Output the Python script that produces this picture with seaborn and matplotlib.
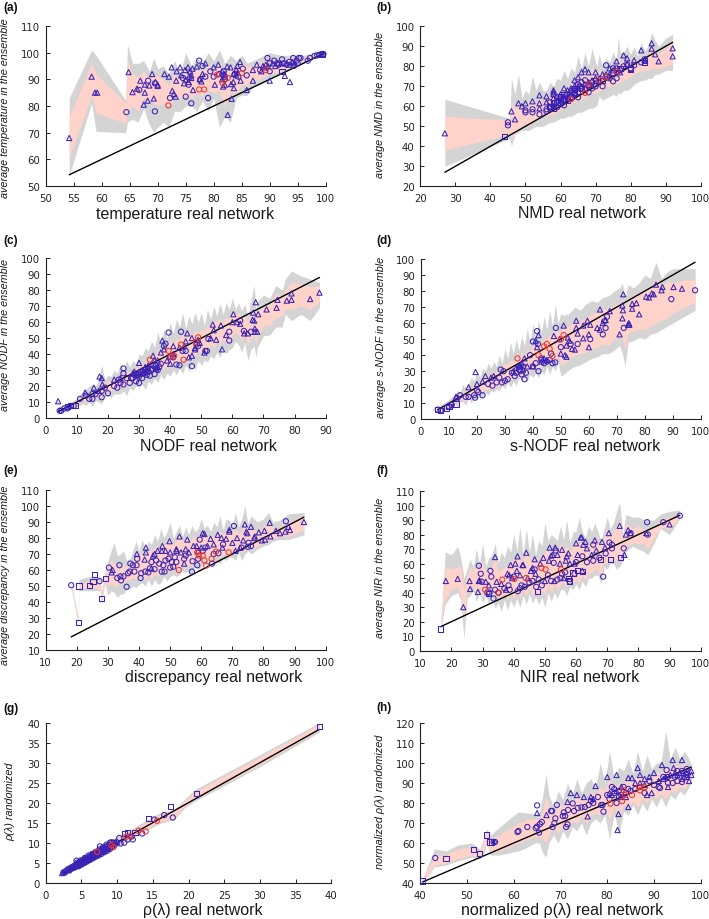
import matplotlib
matplotlib.use("Agg")
import matplotlib.pyplot as plt
import numpy as np
import pandas as pd
import seaborn as sns

BLUE = "#3a22b4"
RED = "#f0352e"
GREY = "#d4d4d4"
PINK = "#ffd2ca"

# band rows: x, outer low, inner low, inner high, outer high
BAND_A = [(54.2,54,60.7,76,83),(58.2,81,84,96,101),(59,70.5,77.5,92,99),(64.3,70,73.5,81,82),(64.6,74,78,97,103),(65.5,75,80,92,96),(66.5,74,78,91,96),(67.5,79,83,93,97),(68.5,73,82,90,93),(69.3,70,81,92,98),(70,72,80,91,94),(71,74,81,90,95),(72,72,80,88,92),(73,78,83,92,97),(74,78,83,90,92),(75,80,84,95,100),(76,80,83,92,95),(77,78,85,94,98),(78,82,84,93,96),(79,78,86,95,100),(80,83,85,94,97),(81,72,86,96,101),(82,76,80,93,96),(83,74,85,95,99),(84,83,85,94,97),(85,84,88,96,99),(86,84,88,95,96),(87,87,90,95,97),(88,88,90,96,98),(89,89,91,97,99),(90,90,92,97,100),(92,92,93,97,99),(94,94,95,98,99),(96,96,97,98,99),(98,98,98.5,99,100),(99.6,99.3,99.4,99.7,100)]
TRI_A = [(54.2,68),(58.2,91),(58.8,85),(59.2,85),(64.8,92.7),(65.5,85.2),(66.3,86.5),(66.9,89.5),(67.5,80.5),(67.7,88),(67.7,85),(68.2,82),(68.5,87.7),(69,92),(69.3,82.8),(69.6,89),(70,87.5),(70,88),(71.2,92),(72,91),(72.5,94.5),(72.6,85.7),(72.9,84.5),(73.2,83.5),(73.3,89.5),(73.4,93),(74,94.5),(74.2,91.5),(74.7,88.5),(74.9,93.5),(75.4,94.5),(75.8,93),(76.2,94),(76.3,86),(75.5,89),(76,90.5),(77,94.8),(77.5,90),(77.8,89.2),(78,92),(78.5,96),(80,94.5),(80.2,88),(80.8,95.5),(81.5,93),(81.7,87.3),(82,88),(82.4,94.8),(82.5,76.7),(83,94.5),(83.1,88.2),(83.2,82.7),(83.5,89),(83.6,86.7),(84,93.5),(84.2,95),(84.7,96.5),(84.8,89.5),(85.9,86),(87,89.5),(87,93.5),(87.7,95.5),(88.5,93),(89,94.5),(90,89.5),(90.5,96),(92.7,91.3),(93.6,89),(91,95),(91.5,96),(93,96),(75,90),(75.6,91),(76,91.5),(81.5,90),(81.8,91),(82,92),(83.5,92),(84,91.5),(84.3,92.5),(88.8,95),(89.3,95.5),(89.7,95),(92,96),(93.5,95.5),(94,96.5),(94.5,96)]
CIR_A = [(64.4,77.7),(66.7,86),(68.3,89.5),(69.5,78),(69.5,88.5),(72.2,83),(74.5,90.5),(75,83.5),(75.5,88),(76,81),(77.4,97),(77.6,90),(78,95),(78.5,91),(79,83),(79.4,93),(80,91),(81,92),(81.7,91.5),(81.8,93),(82,90),(83.8,92),(84.4,91),(85.2,94),(85.9,91.5),(88.3,93.5),(89.6,98),(90,93),(90,96),(90.8,97),(91.3,96),(91.6,95.5),(92.2,97.5),(92.5,96),(93,95.5),(93.5,96.5),(94.2,98),(94.3,95),(94.8,97),(95,96),(95.2,98),(95.5,98),(96.8,97),(97.2,98),(98,98.8),(98.5,99),(98.9,99.2),(99.3,99.5),(99.6,99.5)]
SQR_A = [(92.2,93),(99.5,99.4)]
HOT_A = [(71.9,80.2),(77.4,86.2),(78.3,86.2),(80.6,91.7),(81.6,88.7),(82.5,90.5),(85,92.3),(89.3,93.5)]

BAND_B = [(27,30,38,55,63.5),(45.5,44,46,53,54),(46,40,43,62,74),(47,46,47,58,66),(48,47,49,62,76),(49,48,50,60,64),(50,48,52,62,68),(51,48,50,60,66),(52,49,53,64,75),(53,50,53,61,68),(54,50,54,64,72),(55,50,55,62,68),(56,51,55,64,68),(57,52,56,65,72),(58,52,56,65,70),(59,53,57,67,74),(60,54,58,67,73),(61,54,60,70,78),(62,55,60,68,74),(63,55,61,72,79),(64,56,62,71,77),(65,57,63,76,85),(66,57,64,73,79),(67,58,64,78,87),(68,59,66,74,80),(69,59,66,80,89),(70,60,67,76,82),(70.5,61,67,75,80),(71,65,68,79,86),(72,63,68,76,80),(73,64,70,78,84),(74,65,70,77,82),(75,66,71,81,87),(76,65,71,79,83),(76.5,67,72,85,95),(77,66,72,82,87),(78,68,73,82,87),(79,68,74,84,90),(80,69,75,81,86),(81,71,76,84,90),(82,72,77,82,85),(83,73,78,86,92),(84,73,78,85,88),(85,74,78,85,90),(86,74,79,91,97),(87,76,79,88,93),(88,76,79,86,90),(90,78,80,89,94),(92,78,81,92,96)]
TRI_B = [(27,46.5),(46,57.5),(47,53.5),(48,61.5),(49,60),(50,61.5),(52,62.5),(54,65.5),(54,61.5),(54,59),(56,65),(56,62),(57,60),(58,68),(58,67),(58,64),(59,63),(60,66),(61,69),(62,68),(63,68),(64,73),(64,68),(65,74.5),(66,77),(67,78.5),(68,77),(68,72),(70,77),(70,74),(71,74),(73,76),(74,79),(75,78),(76,82.5),(77,77),(78,85.5),(79,84),(79,81),(81,83),(83,88),(84,83),(86,91.5),(86,88.8),(87,86),(88,82.5),(92,89),(92,85),(65,69),(66,70),(63,66),(62,65),(60,63),(69,73),(72,76),(74,76),(58,66),(59,65),(61,65),(63,69),(64,70),(65,70),(67,71)]
CIR_B = [(45,52),(45,50.5),(50,58),(50,57),(52,58.5),(52,57),(54,56),(56,57.5),(56,58.5),(57,59),(57,62),(58,60),(59,59.5),(59,62),(60,61),(60,64),(61,60.5),(61,63),(62,64),(62,66),(63,64),(64,66),(64,68),(65,64.5),(65,67),(66,69),(67,69),(68,67),(68,70),(69,69),(69,72),(70,71),(70,70),(71,72),(72,70),(73,80.5),(74,74),(75,72.5),(75,79),(76,74),(76,79),(77,78),(78,80),(79,81),(80,79),(81,80.5),(83,82),(84,83.5),(65,71),(67,73),(66,72)]
SQR_B = [(44,45),(57,60),(58,59),(59,62),(60,65),(60,62),(61,64),(62,63),(63,65),(64,67),(64,69),(66,69),(68,71),(70,73),(72,73),(75,77),(76,78),(77,79),(80,78.5),(80,79),(84,82),(84,83),(61,66),(58,62),(73,75)]
HOT_B = [(63,63.5),(67,66.7),(68,71),(71,73),(73,74.5),(76,77.5)]

BAND_C = [(4,3.5,4,6,7),(7,5,6,8,9),(10,7,8.5,11,12),(12,9,11,14,17),(13,8,11,15,18),(14,10,12,16,20),(15,7,12,16,21),(16,11,13,17,20),(17,10,14,19,24),(18,9,14,22,33),(19,13,16,21,24),(20,14,17,23,27),(21,13,17,23,26),(22,15,18,26,30),(23,15,19,25,28),(24,15,19,28,34),(25,17,21,27,30),(26,14,20,29,36),(27,19,22,29,32),(28,17,22,30,36),(29,20,24,31,34),(30,19,24,33,40),(31,21,26,34,39),(32,18,25,35,44),(33,23,28,37,42),(34,21,27,39,48),(35,25,29,39,44),(36,22,28,43,54),(37,27,32,42,47),(38,24,30,46,56),(39,28,33,44,50),(40,26,32,49,60),(41,30,35,46,53),(42,27,34,50,62),(43,31,37,49,57),(44,28,35,53,66),(45,33,39,50,56),(46,29,36,54,64),(47,33,40,52,59),(48,30,39,55,66),(49,36,42,53,60),(50,33,40,56,66),(51,36,42,54,58),(52,35,42,58,68),(53,39,46,58,62),(54,37,44,61,70),(55,41,48,60,64),(56,38,46,62,72),(57,44,50,60,65),(58,40,47,63,72),(59,43,49,62,68),(60,44,52,67,75),(61,48,54,64,68),(62,46,52,66,72),(63,41,48,62,67),(64,47,54,65,71),(65,36,45,60,64),(66,43,50,66,74),(67,45,52,70,83),(67.6,38,45,63,67),(68,44,50,67,73),(70,51.5,58,70,77),(72,52,58,71,75),(74,57,63,78,83),(76,57,64,76,80),(77,65,68,80,87),(79,61,68,85,92),(82,65,70,84,89),(85,61,68,82,87),(88,69,73,83,85)]
TRI_C = [(4,10.5),(12.7,16),(15.5,19),(17,17),(17.3,26),(18,25),(18.2,21),(22,24),(24,25),(28,28),(30,34.5),(31,30),(32,32),(33,33),(34,34),(34.5,39),(35,36),(36,36),(37,41),(37.5,48.5),(38,43),(39,36),(40,34),(41,45),(41,40),(43,44),(44.5,45),(45,48),(45.5,53),(46,38),(47,50),(47,39),(48,44),(48,43),(49,49),(49.5,47),(51,41),(53,50),(53.7,58.5),(54,55),(54.8,49),(56.3,58),(56.7,43),(58,52),(60,60),(60.3,65),(61.5,60),(62.5,59),(63.8,53),(65,53),(66.5,61.5),(66.7,66),(67,61),(67.2,56),(67.3,54),(67.5,72.5),(68,54),(68.3,65),(71,68),(74.5,74),(74.2,69),(77.5,73.5),(79,78),(79,74),(85,74.5),(88,78.5),(28.5,29),(29,27),(29.5,28),(30.5,28),(31.5,28),(32,29),(32.5,31),(33,31),(34,31),(35,33),(35.5,31),(36,32)]
CIR_C = [(4.5,4.5),(5,4.5),(6,6),(7,6),(8,7.5),(9,7.5),(11,12),(13,14),(14,12),(15,12),(15,15),(16,15),(18,13),(18,17),(19,19),(20,15.5),(22,20),(23,19),(23.5,24),(24,22),(25,31),(25,28),(25,21),(26,25),(27,22),(28,25),(29,23),(30,22),(30,26),(31,25),(32,30),(33,29),(33.5,26.5),(35,27.5),(35.5,31),(36,30),(37,34),(38,45),(38.5,46.5),(39.5,53.5),(40,38),(41,38),(42,33.5),(43,33),(43.5,54),(44,42),(45,42),(47,32.5),(48.5,46),(49,45),(51.3,42),(51.8,42),(52.3,49.5),(59,54),(59,48.5),(62.5,61),(63.7,54.5),(66,54),(27.5,25),(28.5,27),(29.5,27),(30.5,29),(31.5,28),(32.5,27),(34,30),(36.5,32)]
SQR_C = [(7,7),(8,8),(9.5,8)]
HOT_C = [(33.5,36.5),(39.5,42),(40.3,38.5),(41.3,39),(43.5,46),(44.3,36.5),(48.3,47.5),(49,50.5)]

BAND_D = [(6,5,5,7,8),(9,6,7,10,11),(11,7,8,12,14),(12,10,11,14,15),(13,8,10,16,18),(14,11,12,15,17),(15,11,12,18,22),(16,9,11,16,19),(17,13,14,19,22),(18,10,13,20,26),(19,14,16,21,24),(20,12,15,24,30),(21,15,17,23,26),(22,14,17,26,32),(23,17,19,26,30),(24,15,18,28,35),(25,18,20,28,32),(26,17,19,30,36),(27,19,21,29,33),(28,18,21,32,40),(29,21,23,32,35),(30,19,23,35,44),(31,23,26,34,38),(32,20,25,37,48),(33,24,27,36,41),(34,21,26,38,50),(35,26,28,38,43),(36,24,27,42,52),(37,26,30,40,46),(38,24,28,44,57),(39,28,31,42,48),(40,26,30,47,60),(41,29,33,44,50),(42,26,31,48,62),(43,30,35,46,54),(44,28,33,51,64),(45,33,36,50,56),(46,28,33,53,68),(47,33,38,52,58),(48,30,36,56,72),(49,36,40,54,60),(50,27,34,55,66),(51,28,35,58,65),(53,31,38,58,66),(55,33,40,62,70),(57,34,41,61,68),(59,36,42,64,72),(61,38,44,65,74),(63,39,45,67,73),(65,41,47,69,76),(67,41,46,69,77),(69,43,50,71,80),(71,46,52,73,82),(72,41,50,75,85),(73,33,44,70,76),(74,48,54,73,84),(76,49,55,76,82),(78,51,56,79,85),(80,50,56,80,90),(82,53,58,82,88),(84,54,60,88,98),(86,56,62,83,88),(88,58,63,86,92),(90,60,66,85,94),(94,64,70,87,94),(98,68,73,87,94)]
TRI_D = [(19.5,29.5),(20,22),(22,23.5),(23,27),(25,26),(26,27),(12.5,14),(17,20),(33,30),(37,38),(41,49),(41.5,45),(42,52.5),(47.5,52),(49.5,50),(51,58.5),(52,46),(52.5,51),(53,49),(54,44),(55,43.5),(55.5,61.5),(55.5,57),(56,53.5),(58,58.5),(58,50.5),(59.5,61.5),(60,53),(60.5,59),(63,57),(64,68.5),(64,56),(65,60),(66,62),(67.5,67.5),(71,53),(72,71),(72,63),(72.2,68),(72.3,78),(74,59),(74.3,60),(74.5,59),(75.5,69),(75.5,72),(77,72.5),(78,65.5),(80.5,76.5),(81.5,76),(82.5,78.5),(83.2,78),(84,84),(86,80.5),(86.3,82.5),(90.3,82.5),(93.3,81.5),(35,33),(38,33),(40,33),(50,41),(51.5,40),(52,39),(60,45),(34,32),(35.5,34),(36,35),(36.5,31),(43,36),(44,38),(45,37)]
CIR_D = [(6,6),(7,5.5),(10,8),(11,9),(13,13),(14,15),(16,14),(17,14),(19,15),(19.3,13.5),(20,18),(20.5,17),(22,15),(24,22),(25.5,21),(27,23),(28,26),(28.5,31),(29,23),(29.5,30),(30,24),(31,25),(32.5,29),(33.5,27),(35,31),(36,28),(36.5,33),(37,25),(37.5,29),(39,40),(40,48.5),(41.5,55),(41.8,47),(42,30),(43,37),(44,35),(45,36),(46,37),(46.5,41),(47,35),(48,35.5),(48.2,57),(50,45),(53.5,47),(56,47),(60.5,50),(65,53),(65.5,61),(66,57),(66.5,64),(72.5,57),(89.5,75),(98,80.5),(34,29),(35,33),(35.5,30),(40,33),(41,35),(43,38)]
SQR_D = [(6,6),(7,5.5),(9,7),(10,8),(12.5,9.5)]
HOT_D = [(34.5,38),(42,40),(44,45.5),(45,47),(46,44),(47,39.5),(50,50),(51,52.5)]

BAND_E = [(18.2,49,49.5,51,52),(20.5,26,27,29,30),(20.7,47,49,51,54),(24,47,49,53,56),(27.5,47,48,54,56),(27.9,39,41,44,46),(29,52,53,57,58),(30,44,50,62,66),(31,47,52,66,72),(32,46,50,64,77),(33,43,50,62,69),(34,45,52,62,70),(35,45,52,64,72),(36,48,54,62,66),(37,48,54,64,67),(38,50,55,66,72),(39,49,54,71,78),(40,51,56,68,72),(41,52,56,72,79),(42,50,54,70,73),(43,54,58,72,78),(44,50,54,72,76),(45,54,58,74,82),(46,51,56,74,78),(47,52,58,76,86),(48,56,60,75,80),(49,53,58,78,84),(50,56,60,80,90),(51,57,61,76,80),(52,56,60,78,84),(53,57,61,82,88),(54,60,64,78,81),(55,58,62,80,87),(56,60,64,78,82),(57,58,62,80,88),(58,62,65,80,84),(59,60,63,81,86),(60,62,65,84,92),(61,64,67,82,86),(62,62,66,82,88),(63,65,68,80,84),(64,64,67,82,90),(65,65,69,82,87),(66,64,68,84,94),(67,67,70,82,85),(68,66,69,84,92),(69,68,71,86,91),(70,68,71,84,88),(71,66,70,86,96),(72,71,73,83,87),(73,66,71,84,92),(74,70,72,90,100),(75,72,74,84,89),(76,70,73,86,94),(78,73,75,84,90),(80,75,77,87,92),(81.6,76,78,90,96),(83,78,80,86,90),(85,79,81,86,91),(88,79,81,90,95),(93,82,85,93,96)]
TRI_E = [(31.5,60),(31.2,58.5),(39.3,70),(41.8,66.5),(42.2,74),(42.2,71),(44,61),(44.5,69),(45,70),(46,72),(47.3,72),(47.5,75),(48.5,72),(49.8,78),(50,71),(52,73),(53,81),(53.5,71),(54.5,64),(55,73),(55.5,79),(57.5,75),(58.5,75),(59,72),(60.5,83),(61,82.5),(62,75),(63,79.5),(64,76),(65.3,82),(66.5,80),(66.8,74),(68,79.5),(69,85),(69,84),(70,77),(71,72),(71.5,80),(72.5,74),(73.5,78.5),(74,88.5),(74.5,84),(74.8,83),(76,87),(77,80),(77.2,81),(78.5,83.5),(79.5,78.5),(80.3,84.5),(80.5,79),(82,89.5),(82.2,81),(84,84.5),(85.3,83),(87,84),(88,87),(88.5,85),(93,90),(60,74),(56,71),(52,72)]
CIR_E = [(18.2,50.5),(27.3,53),(30.3,61.5),(33,55),(33.7,63),(34,56),(34.2,53.5),(35,56),(36,49.5),(36.5,58),(37,59),(37.2,64),(38,63),(38.5,59),(39.2,63),(39.4,67),(40.5,55),(40.7,58),(42,59),(43,58.5),(43.5,61),(44,65),(45,60.5),(45.5,66),(46.5,64),(47.3,59),(47.8,63),(48.2,59),(48.5,66),(49.5,67),(50,61.5),(50.5,65),(51,62),(51.5,68),(52,65),(54.5,67),(55,69),(57,59),(57.2,65.5),(58.7,63),(59,67),(59.5,79),(60.5,72),(61.3,74),(63.5,64),(64,70),(65.5,70.5),(67,76),(70.5,87.5),(73,74),(75,74.5),(75.2,77),(76,75),(87.2,90.5)]
SQR_E = [(20.5,27),(20.7,50),(24.2,50.5),(25.2,53),(25.8,57),(27.9,42),(29.1,54.8)]
HOT_E = [(52.8,60),(58.7,71),(59.3,69),(60.5,69),(61,66),(61.6,62.8),(63.3,67),(64.7,71.5),(68.8,71)]

BAND_F = [(16.5,14,14.5,16,17),(18,32,36,58,68),(20,38,42,56,66),(22,40,44,58,72),(23,35,38,58,64),(24,8,20,42,50),(25,36,42,52,56),(26,38,42,58,63),(27,42,45,54,58),(28,34,38,60,70),(29,40,44,56,60),(30,33,38,62,74),(31,38,43,54,58),(32,32,38,56,64),(33,38,41,58,66),(34,29,35,64,74),(35,33,40,54,60),(36,27,34,56,68),(37,35,40,58,64),(38,28,35,58,72),(39,35,40,60,68),(40,30,36,64,80),(41,36,41,62,69),(42,30,36,66,85),(43,38,42,60,66),(44,32,38,70,84),(45,39,43,62,68),(46,33,38,66,80),(47,37,41,60,66),(48,32,38,64,76),(49,37,42,64,72),(50,30,38,68,88),(51,40,45,70,76),(52,34,40,68,80),(53,40,46,72,78),(54,36,42,68,76),(55,42,46,74,86),(56,42,47,70,76),(57,38,44,72,90),(58,44,48,68,74),(59,42,46,72,82),(60,46,50,76,82),(61,42,46,74,92),(62,48,52,76,82),(63,44,48,72,78),(64,50,54,74,86),(65,50,54,76,82),(66,52,56,78,88),(67,52,56,76,82),(68,46,52,72,76),(69,58,61,78,84),(70,56,60,84,92),(71,60,63,78,84),(72,60,63,82,88),(73,56,62,86,96),(74,58,64,90,102),(75,62,66,76,80),(76,68,72,88,94),(78,72,74,84,92),(80,70,74,86,92),(82,68,74,84,90),(83,66,70,84,90),(85,74,77,85,90),(87,84,85,90,94),(90,80,84,92,96),(93.3,91,92,94,97)]
TRI_F = [(18.2,48),(22,49.5),(23.8,30),(25.8,48),(26,42.5),(28.5,40.5),(29,48.5),(31,47.5),(32,45),(34,64.5),(34.5,47.5),(36,46),(37.5,42),(38,53),(38.5,52),(39,59),(39.5,50),(40.5,60),(41,55),(41.2,65),(42,52),(42.8,59),(43,59),(44,67.5),(44.5,50),(45.5,55),(46,57),(46.7,63),(48.5,60),(49.5,64),(50,48),(51.3,62),(51.5,71),(52,65.5),(52.5,66),(53,48),(53.3,71),(54,66),(54.8,60),(55.5,69.5),(56.7,62),(57,65),(57.5,67),(58,60),(59.5,60),(60,74),(60.5,66),(61.5,78),(61.8,78),(62,55),(62.3,73),(63,75),(63.5,70.5),(65,66),(66,76),(66.5,69),(68.3,75),(69.3,71),(70.5,81),(74,86),(75.5,66),(76,80),(76.7,83),(77.5,81),(82.5,81),(90,87),(28.8,48),(47,53),(56,50)]
CIR_F = [(28.8,58.5),(29.4,53),(29.7,47.5),(31.5,40),(32.2,40),(32.5,55),(32.8,51),(33.5,36),(34,42),(35,40),(37,43),(38.3,45),(38.7,42),(40,51),(41.3,41),(42,43),(42.5,45),(43.5,44),(45,47),(46,48),(46.7,56),(47.2,44),(48,49),(49,45),(51,52),(52,48),(52.8,60.5),(53.5,69),(54,49),(55,50),(55.5,53),(56.5,54),(58,47.5),(59.5,53),(60,61),(62,65),(63.5,61),(65.5,73),(65.5,62),(67.5,64),(68.7,51),(69.5,67),(70.7,74.5),(71.5,73),(71.5,70.5),(75.3,70.5),(77.5,81),(82.8,88.5),(83,80),(88,88.5),(93.3,93)]
SQR_F = [(16.5,15),(32,39.5),(47.5,41),(57.5,50),(57.8,48),(59,53.5),(62,54.5),(67.8,63),(71,63),(74.2,64),(60.5,55)]
HOT_F = [(30.8,42),(35.2,40),(36.3,49),(40.2,49.5),(43.9,50),(48.9,57),(50.2,56),(55.2,56)]

BAND_G = [(2.3,2.2,2.4,2.7,2.8),(4,3.5,3.8,4.8,5.2),(6,5.2,5.6,7,7.5),(8,7,7.5,9.2,9.8),(10,9,9.5,11,11.6),(12,11,11.4,12.8,13.4),(14,13,13.4,15,15.5),(16,14.8,15.2,17,17.5),(18,15.8,16.2,17.8,18.2),(19.5,18.8,19.2,20.6,21),(21,20.5,21,22.8,23.4),(30,29,29.6,31.4,32),(38.3,37.6,38.2,39.6,40)]
TRI_G = [(2.3,2.4),(2.6,2.6),(3.2,3.1),(3.5,3.7),(3.9,4.1),(4.2,4.2),(4.5,4.8),(4.8,4.8),(5,5),(5.3,5.5),(5.6,5.9),(6,6),(6.3,6.5),(6.6,6.6),(7,7),(7.3,7.3),(7.6,7.8),(8,8),(8.4,8.4),(8.8,8.9),(9,9.2),(9.5,9.6),(9.8,10.2)]
CIR_G = [(2.5,2.6),(2.8,2.9),(3,3),(3.1,3.4),(3.3,3.2),(3.4,3.6),(3.5,3.4),(3.6,3.8),(3.7,3.6),(3.8,4),(3.9,3.7),(4,4.2),(4.1,3.9),(4.2,4.5),(4.3,5.5),(4.3,4.1),(4.4,4.6),(4.5,4.3),(4.6,4.9),(4.7,4.5),(4.8,5.1),(4.9,4.7),(5,5.3),(5.1,4.9),(5.2,5.5),(5.3,5),(5.4,5.8),(5.5,5.2),(5.5,6.2),(5.6,5.7),(5.7,5.4),(5.8,6.1),(5.9,5.6),(6,6.3),(6.1,5.8),(6.2,6.6),(6.3,6),(6.4,6.8),(6.5,6.2),(6.6,7),(6.7,6.4),(6.8,7.1),(6.9,6.7),(7,7.3),(7.1,6.9),(7.3,7.6),(7.4,7.1),(7.5,7.9),(7.6,9.1),(7.7,7.5),(7.8,8.2),(7.9,7.7),(8,8.4),(8.1,7.9),(8.2,8.7),(8.3,8.1),(8.4,8.9),(8.5,8.3),(8.6,9.1),(8.7,8.5),(8.8,9.3),(8.9,8.7),(9,9.5),(9.2,10.1),(9.3,9),(9.5,10),(9.7,9.6),(10,10),(10.3,11.2),(10.5,9.8),(11,10),(11.5,10.8),(12.2,10.8),(12,11.5),(13.5,12.3),(16.6,16.9),(17.8,16.3),(15.2,15.8),(4.6,4.1),(5,4.5),(5.4,4.9),(5.8,5.3),(6.2,5.7),(6.6,6.1),(7,6.5),(7.4,6.8),(7.8,7.2),(8.2,7.6),(8.6,8),(9,8.4),(4.4,5),(4.9,5.6),(5.5,6.1),(6,6.8),(6.5,7.2),(7,7.7),(7.5,8.3),(8,8.8),(8.5,9.5),(9,10)]
SQR_G = [(38.3,39),(21.1,22.2),(17.5,19),(14.4,16),(11,12.3),(11.5,12.5),(12.5,12.6)]
HOT_G = [(7.2,7.7),(9.2,9.4),(9.5,8.9),(11.3,11.5),(11.8,11.6),(13,13),(14,12.8),(15.6,15.5)]

BAND_H = [(40.5,40,40.5,42,42),(43,48,49,54,57),(45.5,49,50,54,56),(48,51,52,57,59),(51,53,54,58,60),(52.7,52,53,56,57),(53.5,54,56,61,62),(54.2,60,61,66,67),(55,54,56,62,64),(57,54,56,64,68),(59,55,58,67,72),(61,56,60,70,75.5),(63,58,62,72,75),(64.5,60,63,72,74.5),(65.5,60,63,72,75),(66.2,55,62,76,84),(66.9,53,60,84,94.5),(67.5,60,64,78,84),(68.5,64,68,74,78),(69.5,60,65,80,86),(70.5,66,69,78,82),(71.5,62,66,82,90),(72.5,68,71,80,84),(73.5,66,70,84,92),(74.5,70,73,82,85),(75.5,64,70,82,90),(76.5,70,74,86,92),(77.5,72,75,84,88),(78.5,70,74,88,100),(79.5,74,76,86,90),(80.5,62,72,92,106),(81.5,75,78,88,92),(82.5,64,74,90,98),(83.5,76,79,90,96),(84.5,74,78,92,102),(85.5,79,81,90,95),(86.5,74,78,94,106),(87.5,80,82,92,96),(88.5,76,80,94,104),(89.5,82,84,92,97),(90.5,78,82,96,100),(91.5,83,85,94,100),(92.5,78,82,98,116),(93.5,84,86,96,102),(94.5,82,85,100,108),(95.5,86,88,97,102),(96.5,84,87,100,106),(97.5,88,90,98,102),(98,91,92,97,99)]
TRI_H = [(65,75),(67,74),(71.5,80.5),(72.2,85),(73.5,84),(75,83),(75.8,73.3),(76.5,83),(77,82),(77.5,88.5),(80,93),(80.5,85),(82,94),(82.2,66.5),(82.4,74.5),(83,88),(84,83),(84.5,78),(84.5,92.5),(85.3,92.5),(86,90),(86.5,97.5),(87,94),(88,89),(88.5,84),(89,93),(89.5,85),(90,95),(91,91),(91.7,99),(92,92),(93,88),(94,101.5),(94.2,97.5),(94.5,95),(96,101.5),(96,92),(97,95),(97.5,91),(98,96),(98,94),(96.5,93),(81,84),(82,86),(83,83),(87,90),(88,92),(92.5,93),(93.5,94),(95,94),(95.5,95),(96,95),(97,93)]
CIR_H = [(43.2,52.5),(55.7,60.5),(56,60.5),(60.8,65.5),(61,66),(62.9,68),(64.7,67.5),(65,68.2),(65,78.8),(65.4,65.2),(65.6,69.5),(66,70.5),(68,76),(68.2,76),(68.3,68),(68.7,70),(68.9,72.3),(69.2,79),(70.5,73.5),(70.7,75.3),(71,73.5),(71.2,68),(71.5,69.3),(71.6,76.5),(72.6,79.8),(72.9,76),(73.7,77.5),(74.5,77.8),(75.2,78),(76,79),(76.5,81),(77,80),(78,83),(78.7,79),(79,79),(79.2,75.7),(80,84),(80.5,82),(81,88),(81.5,87),(82,80),(82.5,83),(83,84),(84,85),(85,86),(86,87),(87,88),(88,85),(89,91),(90,89),(91,88),(91.3,87.5),(92,93),(92.7,96.5),(93,90),(94,90),(94.5,93),(95,91),(96,90.5),(97,94),(97,97),(81.5,85),(82.5,86),(83.5,88),(84.5,87),(93,93),(95,96),(96,96),(97,95.5)]
SQR_H = [(40.5,41),(45.5,52.2),(51.4,56.8),(52.7,54.6),(54.2,64),(54.9,60.5),(55.3,60.5)]
HOT_H = [(80.7,79.7),(83.2,81),(83.5,86.3),(83.8,84),(85.3,84),(86.8,88),(87,86.3),(88,87.8)]

LETTERS = ["(a)", "(b)", "(c)", "(d)", "(e)", "(f)", "(g)", "(h)"]
X_LABELS = ["temperature real network", "NMD real network", "NODF real network", "s-NODF real network",
            "discrepancy real network", "NIR real network", "ρ(λ) real network", "normalized ρ(λ) real network"]
Y_LABELS = ["average temperature in the ensemble", "average NMD in the ensemble", "average NODF in the ensemble",
            "average s-NODF in the ensemble", "average discrepancy in the ensemble", "average NIR in the ensemble",
            "ρ(λ) randomized", "normalized ρ(λ) randomized"]
X_TICKS = [range(50, 101, 5), range(20, 101, 10), range(0, 91, 10), range(0, 101, 10),
           range(10, 101, 10), range(10, 101, 10), range(0, 41, 5), range(40, 101, 10)]
Y_TICKS = [range(50, 111, 10), range(20, 101, 10), range(0, 101, 10), range(0, 101, 10),
           range(10, 111, 10), range(0, 111, 10), range(0, 41, 5), range(40, 121, 10)]
BANDS = [BAND_A, BAND_B, BAND_C, BAND_D, BAND_E, BAND_F, BAND_G, BAND_H]
TRIS = [TRI_A, TRI_B, TRI_C, TRI_D, TRI_E, TRI_F, TRI_G, TRI_H]
CIRS = [CIR_A, CIR_B, CIR_C, CIR_D, CIR_E, CIR_F, CIR_G, CIR_H]
SQRS = [SQR_A, SQR_B, SQR_C, SQR_D, SQR_E, SQR_F, SQR_G, SQR_H]
HOTS = [HOT_A, HOT_B, HOT_C, HOT_D, HOT_E, HOT_F, HOT_G, HOT_H]
LINE_ENDS = [(54.2, 99.6), (27, 92), (4, 88), (6, 98), (18.2, 93), (16.5, 93.3), (2.3, 38.3), (40.5, 98)]

# pixel layout of each panel: left, right, top, bottom
AXES_PX = [(45.7, 325.7, 27, 187), (420.3, 700.7, 27.3, 187.3), (45.7, 325.7, 259.3, 419), (421, 700.7, 260, 420.3),
           (45.7, 325.7, 491, 651), (420.3, 700.7, 492, 651.7), (45.7, 331.3, 723.7, 883.7), (420.3, 700.7, 724, 884)]
XLABEL_PX = [(185, 214), (581.7, 214), (208, 447), (585, 447), (214, 678), (580, 678), (203, 911), (562, 911)]
YLABEL_PX = [(5, 108), (380, 105), (5, 335), (381, 337), (5, 575), (380, 568), (10, 802), (380, 802)]
LETTER_PX = [(3, 8), (376, 8), (3, 241), (376, 241), (3, 471), (376, 471), (3, 709), (376, 708)]

W, H = 709, 920


def draw_points(ax, rows, marker, color):
    df = pd.DataFrame(rows, columns=["real", "ensemble"])
    sns.scatterplot(data=df, x="real", y="ensemble", marker=marker, s=14, facecolor="none",
                    edgecolor=color, linewidth=0.75, clip_on=False, zorder=4, ax=ax)


sns.set_theme(style="ticks")
plt.rcParams["font.family"] = ["DejaVu Sans"]
fig = plt.figure(figsize=(W / 100, H / 100), dpi=100)

for i in range(8):
    left, right, top, bottom = AXES_PX[i]
    ax = fig.add_axes([left / W, 1 - bottom / H, (right - left) / W, (bottom - top) / H])
    band = pd.DataFrame(BANDS[i], columns=["x", "out_lo", "in_lo", "in_hi", "out_hi"])
    ax.fill_between(band["x"], band["out_lo"], band["out_hi"], color=GREY, lw=0, zorder=1)
    ax.fill_between(band["x"], band["in_lo"], band["in_hi"], color=PINK, lw=0, zorder=2)
    ends = pd.DataFrame({"x": LINE_ENDS[i], "y": LINE_ENDS[i]})
    sns.lineplot(data=ends, x="x", y="y", color="black", lw=1.0, zorder=3, ax=ax)
    draw_points(ax, TRIS[i], "^", BLUE)
    draw_points(ax, CIRS[i], "o", BLUE)
    draw_points(ax, SQRS[i], "s", BLUE)
    draw_points(ax, HOTS[i], "o", RED)

    ax.set_xlim(X_TICKS[i][0], X_TICKS[i][-1])
    ax.set_ylim(Y_TICKS[i][0], Y_TICKS[i][-1])
    ax.set_xticks(list(X_TICKS[i]))
    ax.set_yticks(list(Y_TICKS[i]))
    ax.set_xlabel("")
    ax.set_ylabel("")
    ax.tick_params(direction="in", length=3, width=0.7, labelsize=7.3, color="#222222", labelcolor="#222222")
    ax.tick_params(axis="x", pad=5)
    ax.tick_params(axis="y", pad=4)
    sns.despine(ax=ax)
    for side in ("left", "bottom"):
        ax.spines[side].set_linewidth(0.8)
        ax.spines[side].set_color("#222222")

    px, py = XLABEL_PX[i]
    fig.text(px / W, 1 - py / H, X_LABELS[i], ha="center", va="center", fontsize=11.5, family="Liberation Sans", color="#1a1a1a")
    px, py = YLABEL_PX[i]
    fig.text(px / W, 1 - py / H, Y_LABELS[i], ha="center", va="center", rotation=90, fontsize=7.8,
             style="italic", family="Liberation Sans", color="#1a1a1a")
    px, py = LETTER_PX[i]
    fig.text(px / W, 1 - py / H, LETTERS[i], ha="left", va="center", fontsize=8.5, fontweight="bold",
             family="Liberation Sans", color="#111111")

fig.savefig("out.png", dpi=100)
plt.close(fig)
